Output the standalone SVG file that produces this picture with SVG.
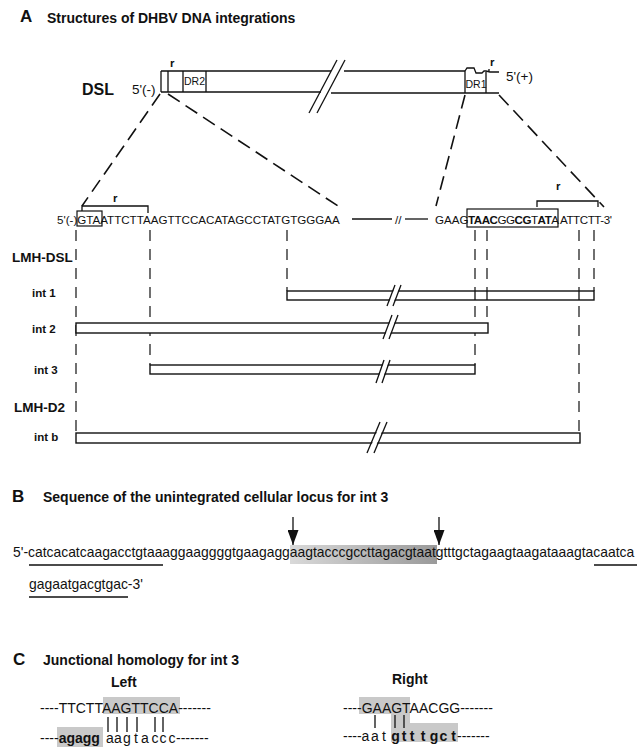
<svg xmlns="http://www.w3.org/2000/svg" width="643" height="754" viewBox="0 0 643 754">
<defs>
<style>
text{font-family:"Liberation Sans",Arial,Helvetica,sans-serif;fill:#111}
.h{font-size:14px;font-weight:bold}
.big{font-size:17px;font-weight:bold}
.lab{font-size:11.5px;font-weight:bold}
.grp{font-size:13.5px;font-weight:bold}
.seq{font-size:11.6px}
.sm{font-size:10.5px}
.rl{font-size:11.5px;font-weight:bold}
.ln{stroke:#111;stroke-width:1.3;fill:none}
.box{stroke:#111;stroke-width:1.4;fill:#fff}
.obox{stroke:#111;stroke-width:1.2;fill:none}
.dash{stroke:#111;stroke-width:1.2;fill:none;stroke-dasharray:11 8}
.ddash{stroke:#111;stroke-width:1.6;fill:none;stroke-dasharray:14 7}
.wgap{stroke:#fff;stroke-width:4.5}
.bseq{font-size:13.9px}
.cseq{font-size:14px}
.sh{fill:#c9c9c9}
.b{font-weight:bold}
</style>
<linearGradient id="gB" x1="0" x2="1" y1="0" y2="0">
<stop offset="0" stop-color="#d9d9d9"/>
<stop offset="0.6" stop-color="#b3b3b3"/>
<stop offset="1" stop-color="#9a9a9a"/>
</linearGradient>
<marker id="ah" markerUnits="userSpaceOnUse" markerWidth="15" markerHeight="11" refX="15" refY="5.5" orient="auto">
<path d="M0,0 L15,5.5 L0,11 z" fill="#111"/>
</marker>
</defs>
<rect width="643" height="754" fill="#fff"/>

<!-- Section A header -->
<g id="headA">
<text x="20" y="22" class="big">A</text>
<text x="47" y="23" class="h">Structures of DHBV DNA integrations</text>
</g>

<!-- DSL node -->
<g id="dsl">
<text x="82" y="95" style="font-size:16px;font-weight:bold">DSL</text>
<text x="132" y="94" style="font-size:13.5px">5'(-)</text>
<path class="ln" d="M161,71 H331 M344,71 H465 M161,92 H321 M331,93 H499 M161,71 V92 M168,71 V92 M183,71 V92 M206,71 V92 M465,71 V93 M486,72 V93"/>
<path class="ln" d="M465,71 L467,68 L474,68 L476,73 L482,73 L484,71 L486,71 L490,72 L499,72 M489,72 V69"/>
<line class="ln" x1="309" y1="113" x2="337" y2="60"/>
<line class="ln" x1="317" y1="113" x2="345" y2="60"/>
<text x="170" y="67" class="rl">r</text>
<text x="184" y="85" class="sm">DR2</text>
<text x="465.5" y="88" class="sm">DR1</text>
<text x="490" y="66" class="rl">r</text>
<text x="506" y="81" style="font-size:13.5px">5'(+)</text>
</g>

<!-- Sequence line -->
<g id="sequence">
<text x="57" y="224" class="seq">5'(-)GTAATTCTTAAGTTCCACATAGCCTATGTGGGAA</text>
<line class="ln" x1="352" y1="219" x2="392" y2="219"/>
<text x="395" y="224" class="seq">//</text>
<line class="ln" x1="405" y1="219" x2="428" y2="219"/>
<text x="435" y="224" class="seq">GAAG</text>
<text x="468" y="224" class="seq" textLength="91" lengthAdjust="spacing"><tspan class="b">TAAC</tspan>GG<tspan class="b">CG</tspan>T<tspan class="b">AT</tspan>A</text>
<text x="560" y="224" class="seq" textLength="52" lengthAdjust="spacing">ATTCTT-3'</text>
<rect class="obox" x="77" y="211" width="25" height="15"/>
<rect class="obox" x="467" y="209" width="91" height="18"/>
<path class="ln" d="M82,211 V206 H148 V213"/>
<text x="113" y="202" class="rl">r</text>
<path class="ln" d="M537,207 V201 H598 V207"/>
<text x="556" y="190" class="rl">r</text>
</g>

<!-- Connectors -->
<g id="connectors">
<line class="ddash" x1="160" y1="94" x2="82" y2="206"/>
<line class="ddash" x1="168" y1="94" x2="338" y2="206"/>
<line class="ddash" x1="465" y1="95" x2="436" y2="206"/>
<line class="ddash" x1="499" y1="95" x2="604" y2="207"/>
<line class="dash" x1="76" y1="230" x2="76" y2="433"/>
<line class="dash" x1="150" y1="230" x2="150" y2="365"/>
<line class="dash" x1="287" y1="230" x2="287" y2="291"/>
<line class="dash" x1="475" y1="230" x2="475" y2="365"/>
<line class="dash" x1="487" y1="230" x2="487" y2="323"/>
<line class="dash" x1="579" y1="230" x2="579" y2="433"/>
<line class="dash" x1="594" y1="230" x2="594" y2="291"/>
</g>

<!-- Labels -->
<g id="lmh-dsl"><text x="12" y="262" class="grp">LMH-DSL</text></g>
<g id="lmh-d2"><text x="14" y="412" class="grp">LMH-D2</text></g>

<!-- int 1 -->
<g id="int1">
<text x="32" y="297" class="lab">int 1</text>
<rect class="box" x="287" y="291" width="307" height="9"/>
<path class="ln" d="M475,291 V300 M487,291 V300 M579,291 V300"/>
<line class="wgap" x1="391.5" y1="302" x2="396.5" y2="289"/>
<line class="ln" x1="387" y1="306" x2="395" y2="285"/>
<line class="ln" x1="393" y1="306" x2="401" y2="285"/>
</g>

<!-- int 2 -->
<g id="int2">
<text x="32" y="333" class="lab">int 2</text>
<rect class="box" x="76" y="323" width="412" height="10"/>
<line class="wgap" x1="387.5" y1="335" x2="392.75" y2="321"/>
<line class="ln" x1="383" y1="339" x2="392" y2="315"/>
<line class="ln" x1="389" y1="339" x2="398" y2="315"/>
</g>

<!-- int 3 -->
<g id="int3">
<text x="34" y="374" class="lab">int 3</text>
<rect class="box" x="150" y="365" width="325" height="9"/>
<line class="wgap" x1="381.4" y1="376" x2="386" y2="363"/>
<line class="ln" x1="376" y1="383" x2="384" y2="360"/>
<line class="ln" x1="382" y1="383" x2="390" y2="360"/>
</g>

<!-- int b -->
<g id="intb">
<text x="34" y="441" class="lab">int b</text>
<rect class="box" x="76" y="433" width="504" height="10"/>
<line class="wgap" x1="373.9" y1="445" x2="379.7" y2="431"/>
<line class="ln" x1="367" y1="453" x2="380" y2="422"/>
<line class="ln" x1="374" y1="453" x2="387" y2="422"/>
</g>

<!-- Section B -->
<g id="sectionB">
<text x="12" y="502" class="big">B</text>
<text x="43" y="502" class="h">Sequence of the unintegrated cellular locus for int 3</text>
<rect x="290" y="545" width="147" height="19" fill="url(#gB)"/>
<line class="ln" x1="293" y1="517" x2="293" y2="545" stroke-width="1.6" marker-end="url(#ah)"/>
<line class="ln" x1="439" y1="517" x2="439" y2="545" stroke-width="1.6" marker-end="url(#ah)"/>
<text x="13" y="557" class="bseq">5'-catcacatcaagacctgtaaaggaaggggtgaagaggaagtacccgccttagacgtaatgtttgctagaagtaagataaagtacaatca</text>
<text x="29" y="589" class="bseq">gagaatgacgtgac-3'</text>
<path class="ln" d="M29,565 H163 M594,565 H637 M29,597 H128"/>
</g>

<!-- Section C -->
<g id="sectionC">
<text x="13" y="665" class="big">C</text>
<text x="43" y="665" class="h">Junctional homology for int 3</text>
<text x="111" y="687" class="h">Left</text>
<text x="392" y="684" class="h">Right</text>
</g>

<g id="left-junction">
<rect class="sh" x="103" y="697" width="77" height="17"/>
<rect class="sh" x="57" y="727" width="46" height="20"/>
<text x="40" y="713" class="cseq">----TTCTTAAGTTCCA-------</text>
<text x="40" y="743" class="cseq">----<tspan class="b">agagg</tspan></text>
<g class="cseq" text-anchor="middle">
<text x="110" y="743" class="cseq">a</text>
<text x="118" y="743" class="cseq">a</text>
<text x="127" y="743" class="cseq">g</text>
<text x="136" y="743" class="cseq">t</text>
<text x="145" y="743" class="cseq">a</text>
<text x="155" y="743" class="cseq">c</text>
<text x="163" y="743" class="cseq">c</text>
<text x="172" y="743" class="cseq">c</text>
</g>
<text x="176" y="743" class="cseq">-------</text>
<path class="ln" d="M117,717 V732 M127,717 V732 M137,717 V732 M155,717 V732 M163,717 V732"/>
<line class="ln" x1="108" y1="717" x2="108" y2="732" stroke-width="2.2"/>
</g>

<g id="right-junction">
<path class="sh" d="M359,697 H410 V723 H458 V742 H391 V714 H359 Z"/>
<text x="343" y="713" class="cseq">----GAAGTAACGG-------</text>
<text x="343" y="741" class="cseq">----</text>
<g text-anchor="middle">
<text x="365.5" y="741" class="cseq">a</text>
<text x="375" y="741" class="cseq">a</text>
<text x="384" y="741" class="cseq">t</text>
<text x="395.5" y="741" class="cseq b">g</text>
<text x="404" y="741" class="cseq b">t</text>
<text x="412" y="741" class="cseq b">t</text>
<text x="423" y="741" class="cseq b">t</text>
<text x="434" y="741" class="cseq b">g</text>
<text x="443.5" y="741" class="cseq b">c</text>
<text x="453.5" y="741" class="cseq b">t</text>
</g>
<text x="457" y="741" class="cseq">-------</text>
<path class="ln" d="M375,715 V728 M404,715 V728"/>
<line class="ln" x1="395" y1="715" x2="395" y2="728" stroke-width="2.2"/>
</g>
</svg>
